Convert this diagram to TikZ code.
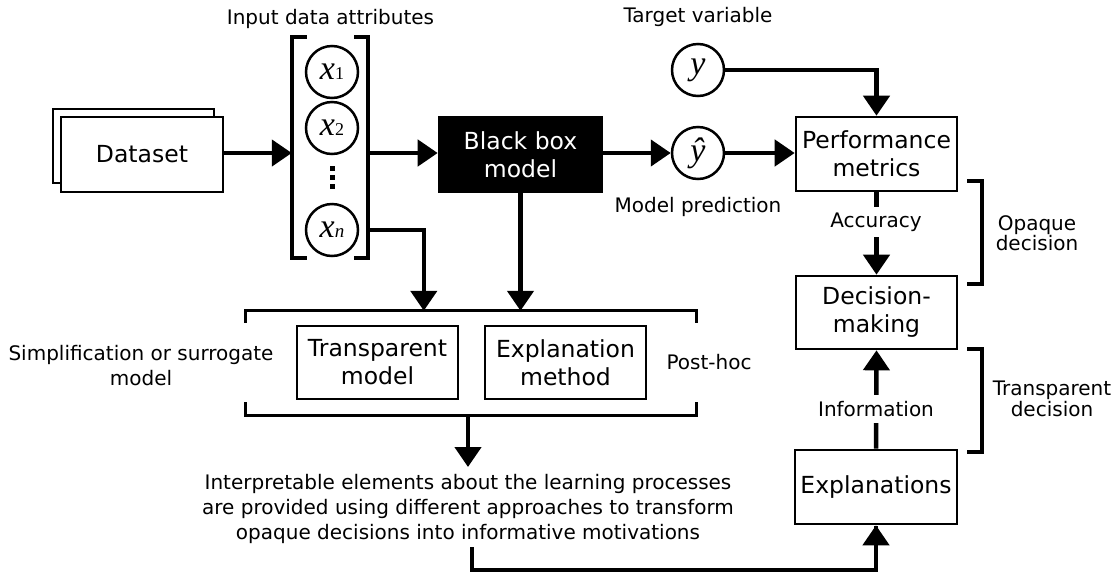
\documentclass[tikz,border=0pt]{standalone}
\usepackage{fontspec}
\setmainfont{DejaVu Sans}
\newfontfamily\varfont{Liberation Serif}
\usetikzlibrary{arrows.meta,calc}

\begin{document}
\begin{tikzpicture}[x=1pt,y=-1pt,
  box/.style={draw,line width=2.6pt,fill=white,align=center,inner sep=0pt,
              font=\fontsize{23.5}{28}\selectfont},
  var/.style={draw,circle,line width=2.5pt,minimum size=52pt,inner sep=0pt},
  lbl/.style={align=center,inner sep=0pt,font=\fontsize{20}{25}\selectfont},
  tight/.style={lbl,font=\fontsize{20}{19}\selectfont},
  flow/.style={line width=4.5pt,-{Triangle[length=20pt,width=26pt]}},
  link/.style={line width=4.5pt},
  brk/.style={line width=3.6pt},
  dot/.style={fill=black,inner sep=0pt,minimum size=5pt}
]
\useasboundingbox (0,0) rectangle (1114,574);

% ---------- dataset (stacked sheets) ----------
\node[box,minimum width=161pt,minimum height=74pt] (dsback) at (133.5,146) {};
\node[box,minimum width=162pt,minimum height=75pt] (ds) at (142,154.5) {Dataset};

% ---------- input attributes ----------
\node[minimum width=76pt,minimum height=221pt,inner sep=0pt] (attr) at (330,147.5) {};
\draw[brk] ([xshift=15pt]attr.north west) -- (attr.north west) -- (attr.south west) -- ++(15,0);
\draw[brk] ([xshift=-14pt]attr.north east) -- (attr.north east) -- (attr.south east) -- ++(-14,0);
\node[lbl] (attrlbl) at (330.5,19) {Input data attributes};

\node[var] (x1) at (332,72) {\varfont\fontsize{34}{34}\selectfont\textit{x}\fontsize{18}{18}\selectfont 1};
\node[var] (x2) at (332,128) {\varfont\fontsize{34}{34}\selectfont\textit{x}\fontsize{18}{18}\selectfont 2};
\node[var] (xn) at (332,230) {\varfont\fontsize{34}{34}\selectfont\textit{x}\fontsize{19}{19}\selectfont\textit{n}};
\node[dot] (d1) at (332,168) {};
\node[dot] (d2) at (332,177) {};
\node[dot] (d3) at (332,186) {};

% ---------- model and prediction ----------
\node[box,fill=black,text=white,minimum width=163pt,minimum height=75pt] (bb) at (520.5,154.5) {Black box\\model};
\node[var] (yhat) at (698,153) {\varfont\fontsize{34}{34}\selectfont\textit{ŷ}};
\node[var] (y) at (698,70) {\varfont\fontsize{34}{34}\selectfont\textit{y}};
\node[lbl] (ylbl) at (698,17) {Target variable};
\node[lbl] (yhatlbl) at (698,207) {Model prediction};

% ---------- decision column ----------
\node[box,minimum width=161pt,minimum height=74pt] (perf) at (876.5,154) {Performance\\metrics};
\node[box,minimum width=161pt,minimum height=73pt] (dec) at (876.5,312.5) {Decision-\\making};
\node[box,minimum width=162pt,minimum height=74pt] (expl) at (876,487) {Explanations};

\draw[brk] (967,181) -- (982,181) -- (982,284) -- (967,284);
\draw[brk] (967,349) -- (982,349) -- (982,452) -- (967,452);
\node[tight] (opq) at (1037,233) {Opaque\\decision};
\node[tight] (trd) at (1052,399) {Transparent\\decision};

% ---------- post-hoc group ----------
\node[minimum width=450pt,minimum height=104pt,inner sep=0pt] (ph) at (471,363) {};
\draw[line width=3.3pt] ([yshift=-12pt]ph.north west) -- (ph.north west) -- (ph.north east) -- ++(0,12);
\draw[line width=3.3pt] ([yshift=13pt]ph.south west) -- (ph.south west) -- (ph.south east) -- ++(0,-13);
\node[box,minimum width=161pt,minimum height=73pt] (tm) at (377.5,362.5) {Transparent\\model};
\node[box,minimum width=161pt,minimum height=73pt] (em) at (565.5,362.5) {Explanation\\method};
\node[lbl] (simp) at (141,366) {Simplification or surrogate\\model};
\node[lbl] (phlbl) at (709,362) {Post-hoc};

\node[lbl,inner ysep=7pt] (interp) at (468,509)
  {Interpretable elements about the learning processes\\
   are provided using different approaches to transform\\
   opaque decisions into informative motivations};

% ---------- connectors ----------
\draw[flow] (ds.east |- 0,153) -- (attr.west |- 0,153);
\draw[flow] (attr.east |- 0,153) -- (bb.west |- 0,153);
\draw[flow] (bb.east |- yhat) -- (yhat.west);
\draw[flow] (yhat.east) -- (yhat.east -| perf.west);
\draw[flow] (y.east) -| (perf.north);

\coordinate (phin) at ([xshift=178pt]ph.north west);
\draw[flow] (attr.east |- xn) -| (phin);
\draw[flow] (bb.south) -- (bb.south |- ph.north);
\draw[flow] (ph.south -| interp) -- (468,467);

\coordinate (loop) at (472,570);
\draw[link] (472,547) -- (loop) -| ([yshift=-1pt]expl.south);
\draw[flow] (876,560) -- (expl.south);

\draw[flow] (perf.south) -- (dec.north);
\node[lbl,fill=white,inner ysep=6pt] (acc) at (876,222) {Accuracy};
\draw[flow] (expl.north) -- (dec.south);
\node[lbl,fill=white,inner ysep=6.5pt] (info) at (876,409) {Information};
\end{tikzpicture}
\end{document}
